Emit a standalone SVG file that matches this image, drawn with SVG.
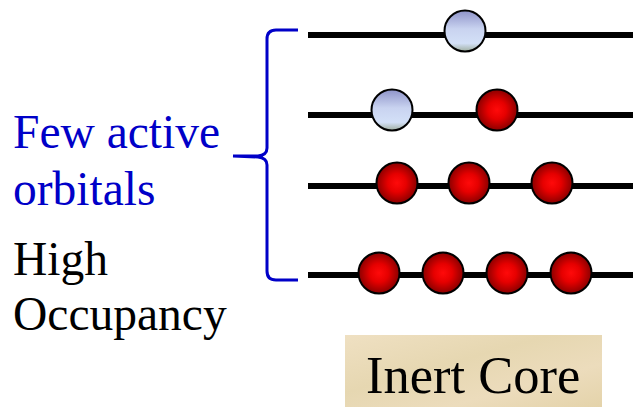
<svg xmlns="http://www.w3.org/2000/svg" width="633" height="408" viewBox="0 0 633 408">
<defs>
<linearGradient id="blueG" x1="0" y1="0" x2="0" y2="1">
<stop offset="0" stop-color="#8e93c9"/>
<stop offset="0.45" stop-color="#c9d3f0"/>
<stop offset="0.8" stop-color="#d3e0f7"/>
<stop offset="1" stop-color="#9fae9f"/>
</linearGradient>
<radialGradient id="redG" cx="0.5" cy="0.5" r="0.5">
<stop offset="0" stop-color="#ff0a0a"/>
<stop offset="0.45" stop-color="#e60000"/>
<stop offset="1" stop-color="#8a0000"/>
</radialGradient>
<linearGradient id="parch" x1="0" y1="0" x2="1" y2="1">
<stop offset="0" stop-color="#efe0c2"/>
<stop offset="0.4" stop-color="#e6d7b1"/>
<stop offset="0.7" stop-color="#ecdcbc"/>
<stop offset="1" stop-color="#e4d3aa"/>
</linearGradient>
</defs>
<style>
.lvl{stroke:#000;stroke-width:6;fill:none}
.e{stroke:#000;stroke-width:2}
.blue{fill:url(#blueG)}
.red{fill:url(#redG)}
.t{font-family:"Liberation Serif","Times New Roman",serif;font-size:47.5px}
</style>
<rect width="633" height="408" fill="#fff"/>
<g id="connectors">
<line class="lvl" x1="308" y1="35" x2="633" y2="35"/>
<line class="lvl" x1="308" y1="115" x2="633" y2="115"/>
<line class="lvl" x1="308" y1="186" x2="633" y2="186"/>
<line class="lvl" x1="308" y1="275" x2="633" y2="275"/>
</g>
<g id="level1">
<circle class="e blue" cx="465" cy="31" r="20.5"/>
</g>
<g id="level2">
<circle class="e blue" cx="392" cy="110" r="20.5"/>
<circle class="e red" cx="497" cy="110" r="20.5"/>
</g>
<g id="level3">
<circle class="e red" cx="397" cy="183" r="20.5"/>
<circle class="e red" cx="469" cy="183" r="20.5"/>
<circle class="e red" cx="552" cy="183" r="20.5"/>
</g>
<g id="level4">
<circle class="e red" cx="379" cy="273" r="20.5"/>
<circle class="e red" cx="443" cy="273" r="20.5"/>
<circle class="e red" cx="507" cy="273" r="20.5"/>
<circle class="e red" cx="571" cy="273" r="20.5"/>
</g>
<g id="brace">
<path d="M298 30 L276 30 Q267 30 267 39 L267 148 Q267 155 258 156 L233 156 L258 157 Q267 158 267 165 L267 271 Q267 280 276 280 L298 280" fill="none" stroke="#0000c8" stroke-width="3"/>
</g>
<g id="labels">
<text class="t" x="13" y="148" fill="#0000c8">Few active</text>
<text class="t" x="13" y="205" fill="#0000c8">orbitals</text>
<text class="t" x="13" y="275" fill="#000">High</text>
<text class="t" x="13" y="330" fill="#000">Occupancy</text>
</g>
<g id="core">
<rect x="345" y="335" width="257" height="72" fill="url(#parch)"/>
<text x="366" y="393" font-family="Liberation Serif,'Times New Roman',serif" font-size="52.5" fill="#000">Inert Core</text>
</g>
</svg>
